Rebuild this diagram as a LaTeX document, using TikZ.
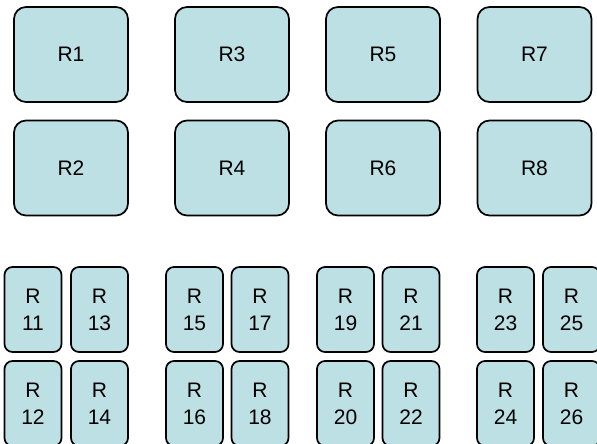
\documentclass[tikz,border=0pt]{standalone}
\usepackage{fontspec}
\setmainfont{Liberation Sans}
\definecolor{boxfill}{HTML}{BCE0E4}
\begin{document}
\begin{tikzpicture}[x=1pt,y=-1pt,
  big/.style={draw=black,fill=boxfill,line width=1.7pt,rounded corners=12pt,minimum width=114pt,minimum height=95pt,inner sep=0pt,font=\fontsize{21}{27}\selectfont},
  small/.style={draw=black,fill=boxfill,line width=1.7pt,rounded corners=8pt,minimum width=57pt,minimum height=85pt,inner sep=0pt,align=center,font=\fontsize{21}{27}\selectfont}]
\useasboundingbox (0,0) rectangle (597,444);
\node[big] (R1) at (71,54.5) {R1};
\node[big] (R2) at (71,168) {R2};
\node[big] (R3) at (232,54.5) {R3};
\node[big] (R4) at (232,168) {R4};
\node[big] (R5) at (383,54.5) {R5};
\node[big] (R6) at (383,168) {R6};
\node[big] (R7) at (534.5,54.5) {R7};
\node[big] (R8) at (534.5,168) {R8};
\node[small] (R11) at (33,309.5) {R\\11};
\node[small] (R12) at (33,403.5) {R\\12};
\node[small] (R13) at (99.5,309.5) {R\\13};
\node[small] (R14) at (99.5,403.5) {R\\14};
\node[small] (R15) at (194.5,309.5) {R\\15};
\node[small] (R16) at (194.5,403.5) {R\\16};
\node[small] (R17) at (260,309.5) {R\\17};
\node[small] (R18) at (260,403.5) {R\\18};
\node[small] (R19) at (345.5,309.5) {R\\19};
\node[small] (R20) at (345.5,403.5) {R\\20};
\node[small] (R21) at (411,309.5) {R\\21};
\node[small] (R22) at (411,403.5) {R\\22};
\node[small] (R23) at (505.5,309.5) {R\\23};
\node[small] (R24) at (505.5,403.5) {R\\24};
\node[small] (R25) at (571.5,309.5) {R\\25};
\node[small] (R26) at (571.5,403.5) {R\\26};
\end{tikzpicture}
\end{document}
